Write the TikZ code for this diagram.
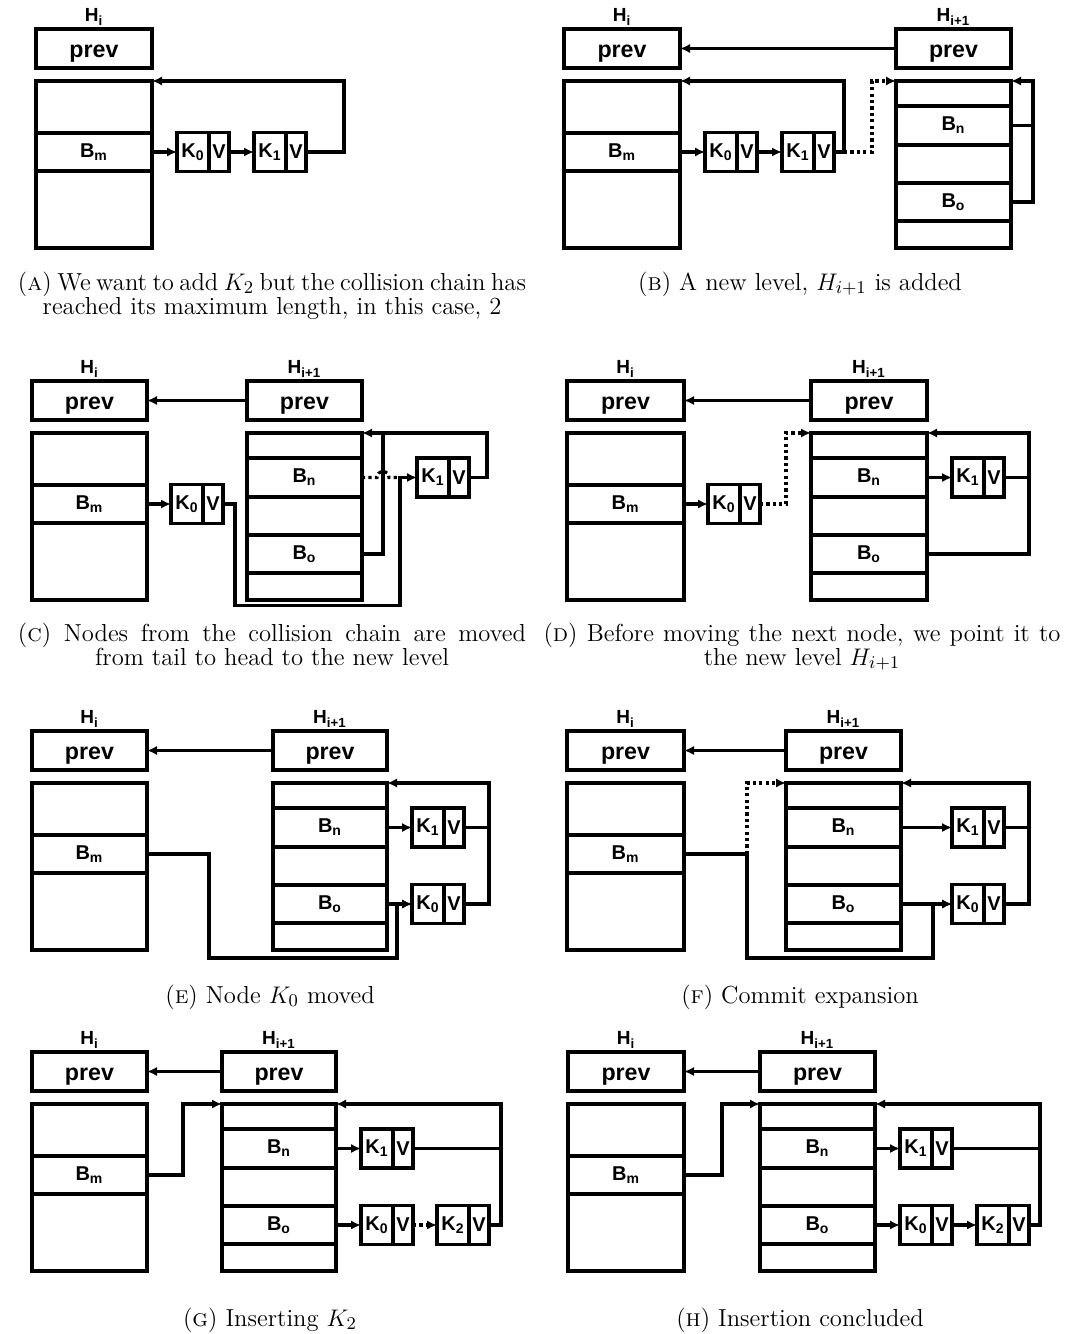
\documentclass[tikz,border=0pt]{standalone}
\usepackage{fontspec}
\newfontfamily\dfont{Liberation Sans}
\usetikzlibrary{arrows.meta,calc}
\tikzset{
  x=0.5pt, y=-0.5pt,
  cell/.style={draw, line width=1.6pt, inner sep=0pt, outer sep=0pt, font=\dfont\bfseries\fontsize{10}{12}\selectfont},
  prevcell/.style={cell, font=\dfont\bfseries\fontsize{11.6}{14}\selectfont, text height=8.6pt, text depth=0pt},
  hlabel/.style={font=\dfont\bfseries\fontsize{9.5}{11}\selectfont, inner sep=0pt},
  link/.style={line width=1.6pt},
  tip/.style={-{Latex[length=5pt,width=4.6pt]}},
  arr/.style={link, tip},
  dots/.style={link, dash pattern=on 1.6pt off 1.6pt},
  captext/.style={font=\fontsize{12.3}{14}\selectfont, inner sep=0pt, anchor=base},
}
\newcommand\myCell[7]{%
  \node[#1, minimum width={((#5)-(#3))*0.5pt}, minimum height={((#6)-(#4))*0.5pt}] (#2) at ({((#3)+(#5))/2},{((#4)+(#6))/2}) {#7};}
\newcommand\myOld[4]{%
  \node[hlabel] (#1Hi) at ({((#2)+(#3))/2},{(#4)-12}) {H\textsubscript{i}};
  \myCell{prevcell}{#1prev}{#2}{#4}{#3}{(#4)+39}{prev}
  \myCell{cell}{#1t1}{#2}{(#4)+52}{#3}{(#4)+104}{}
  \myCell{cell}{#1Bm}{#2}{(#4)+104}{#3}{(#4)+142}{B\textsubscript{m}}
  \myCell{cell}{#1t3}{#2}{(#4)+142}{#3}{(#4)+219}{}}
\newcommand\myNew[4]{%
  \node[hlabel] (#1HiN) at ({((#2)+(#3))/2},{(#4)-12}) {H\textsubscript{i+1}};
  \myCell{prevcell}{#1prevN}{#2}{#4}{#3}{(#4)+39}{prev}
  \myCell{cell}{#1u1}{#2}{(#4)+52}{#3}{(#4)+77}{}
  \myCell{cell}{#1Bn}{#2}{(#4)+77}{#3}{(#4)+116}{B\textsubscript{n}}
  \myCell{cell}{#1u3}{#2}{(#4)+116}{#3}{(#4)+154}{}
  \myCell{cell}{#1Bo}{#2}{(#4)+154}{#3}{(#4)+192}{B\textsubscript{o}}
  \myCell{cell}{#1u5}{#2}{(#4)+192}{#3}{(#4)+219}{}}
\newcommand\myKV[4]{%
  \myCell{cell}{#1}{#2}{(#3)-19.5}{(#2)+32}{(#3)+19.5}{K\textsubscript{#4}}
  \myCell{cell}{#1v}{(#2)+32}{(#3)-19.5}{(#2)+52}{(#3)+19.5}{V}}
\begin{document}
\begin{tikzpicture}
\useasboundingbox[fill=white] (0,0) rectangle (1065,1334);
% ---------- A
\myOld{a}{36}{152}{29}
\myKV{aK0}{177}{152}{0}
\myKV{aK1}{254}{152}{1}
\draw[arr] (aBm.east) -- (aK0.west);
\draw[arr] (aK0v.east) -- (aK1.west);
\draw[arr] (aK1v.east) -- ++(38,0) |- (at1.north east);
% ---------- B
\myOld{b}{564}{680}{29}
\myNew{b}{896}{1011}{29}
\myKV{bK0}{705}{152}{0}
\myKV{bK1}{782}{152}{1}
\draw[arr] (bprevN.west) -- (bprev.east);
\draw[arr] (bBm.east) -- (bK0.west);
\draw[arr] (bK0v.east) -- (bK1.west);
\draw[link] (bK1v.east) -- ++(10,0) coordinate (bj);
\draw[arr] (bj) |- (bt1.north east);
\draw[dots,tip] (bj) -- ++(28,0) |- (bu1.north west);
\draw[link] (bBn.east) -- ++(22,0);
\draw[arr] (bBo.east) -- ++(22,0) |- (bu1.north east);
% ---------- C
\myOld{c}{32}{147}{381}
\myNew{c}{247}{362}{381}
\myKV{cK0}{171}{504}{0}
\myKV{cK1}{417}{477.5}{1}
\draw[arr] (cprevN.west) -- (cprev.east);
\draw[arr] (cBm.east) -- (cK0.west);
\draw[arr] (cK0v.east) -- ++(12,0) |- ($(cK1.west)+(-17,128)$) -- ($(cK1.west)+(-17,0)$) -- (cK1.west);
\draw[arr] (cK1v.east) -- ++(18,0) |- (cu1.north east);
\draw[link] (cBo.east) -- ++(21,0) coordinate (cb) -- (cb |- cu1.north);
\draw[dots] (cBn.east) -- ($(cBn.east)+(15,0)$) arc[start angle=180, end angle=360, radius=6] -- ($(cK1.west)+(-17,0)$);
% ---------- D
\myOld{d}{567}{684}{381}
\myNew{d}{811}{927}{381}
\myKV{dK0}{708}{504}{0}
\myKV{dK1}{952}{477.5}{1}
\draw[arr] (dprevN.west) -- (dprev.east);
\draw[arr] (dBm.east) -- (dK0.west);
\draw[dots,tip] (dK0v.east) -- ++(26,0) |- (du1.north west);
\draw[arr] (dBn.east) -- (dK1.west);
\draw[link] (dK1v.east) -- ++(25,0);
\draw[arr] (dBo.east) -- ++(102,0) |- (du1.north east);
% ---------- E
\myOld{e}{32}{147}{731}
\myNew{e}{273}{387}{731}
\myKV{eK1}{412}{827.5}{1}
\myKV{eK0}{412}{904}{0}
\draw[arr] (eprevN.west) -- (eprev.east);
\draw[arr] (eBn.east) -- (eK1.west);
\draw[arr] (eBo.east) -- (eK0.west);
\draw[arr] (eBm.east) -- ++(62,0) |- ($(eK0.west)+(-15,54)$) -- ($(eK0.west)+(-15,0)$) -- (eK0.west);
\draw[link] (eK1v.east) -- ++(25,0);
\draw[arr] (eK0v.east) -- ++(25,0) |- (eu1.north east);
% ---------- F
\myOld{f}{567}{684}{731}
\myNew{f}{786}{901}{731}
\myKV{fK1}{952}{827.5}{1}
\myKV{fK0}{952}{904}{0}
\draw[arr] (fprevN.west) -- (fprev.east);
\draw[arr] (fBn.east) -- (fK1.west);
\draw[arr] (fBo.east) -- (fK0.west);
\draw[link] (fBm.east) -- ++(63,0) coordinate (fj);
\draw[arr] (fj) |- ($(fK0.west)+(-19,54)$) -- ($(fK0.west)+(-19,0)$) -- (fK0.west);
\draw[dots,tip] (fj) |- (fu1.north west);
\draw[link] (fK1v.east) -- ++(25,0);
\draw[arr] (fK0v.east) -- ++(25,0) |- (fu1.north east);
% ---------- G
\myOld{g}{32}{147}{1052}
\myNew{g}{222}{336}{1052}
\myKV{gK1}{361}{1148.5}{1}
\myKV{gK0}{361}{1225}{0}
\myKV{gK2}{437}{1225}{2}
\draw[arr] (gprevN.west) -- (gprev.east);
\draw[arr] (gBn.east) -- (gK1.west);
\draw[arr] (gBo.east) -- (gK0.west);
\draw[dots,tip] (gK0v.east) -- (gK2.west);
\draw[link] (gK1v.east) -- ++(88,0);
\draw[arr] (gK2v.east) -- ++(12,0) |- (gu1.north east);
\draw[arr] (gBm.east) -- ++(36,0) |- (gu1.north west);
% ---------- H
\myOld{h}{568}{684}{1052}
\myNew{h}{760}{875}{1052}
\myKV{hK1}{900}{1148.5}{1}
\myKV{hK0}{900}{1225}{0}
\myKV{hK2}{977}{1225}{2}
\draw[arr] (hprevN.west) -- (hprev.east);
\draw[arr] (hBn.east) -- (hK1.west);
\draw[arr] (hBo.east) -- (hK0.west);
\draw[arr] (hK0v.east) -- (hK2.west);
\draw[link] (hK1v.east) -- ++(88,0);
\draw[arr] (hK2v.east) -- ++(11,0) |- (hu1.north east);
\draw[arr] (hBm.east) -- ++(38,0) |- (hu1.north west);
% ---------- captions
\node[captext] (capA1) at (272,290) {\makebox[254pt][s]{(\textsc{a}) We want to add $K_2$ but the collision chain has}};
\node[captext] (capA2) at (272,314) {reached its maximum length, in this case, 2};
\node[captext] (capB) at (800,290) {(\textsc{b}) A new level, $H_{i+1}$ is added};
\node[captext] (capC1) at (272,641) {\makebox[254pt][s]{(\textsc{c}) Nodes from the collision chain are moved}};
\node[captext] (capC2) at (272,665) {from tail to head to the new level};
\node[captext] (capD1) at (802,641) {\makebox[258.5pt][s]{(\textsc{d}) Before moving the next node, we point it to}};
\node[captext] (capD2) at (802,665) {the new level $H_{i+1}$};
\node[captext] (capE) at (270,1003) {(\textsc{e}) Node $K_0$ moved};
\node[captext] (capF) at (800,1003) {(\textsc{f}) Commit expansion};
\node[captext] (capG) at (270,1326) {(\textsc{g}) Inserting $K_2$};
\node[captext] (capH) at (800,1326) {(\textsc{h}) Insertion concluded};
\end{tikzpicture}
\end{document}
